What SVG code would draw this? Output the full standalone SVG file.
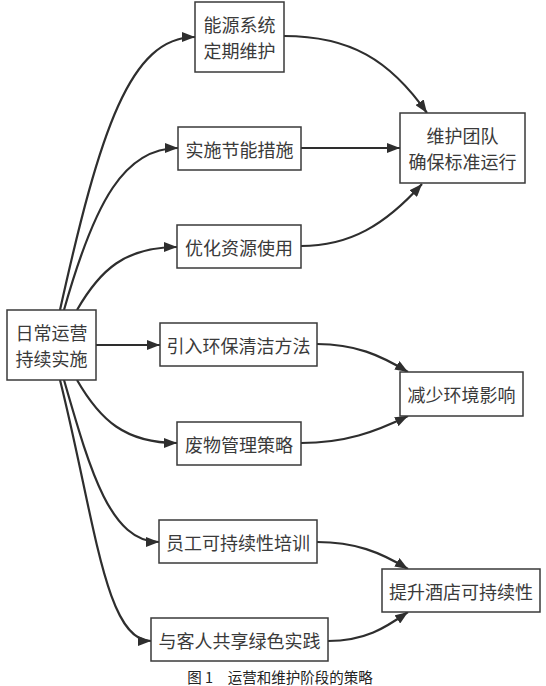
<svg xmlns="http://www.w3.org/2000/svg" width="546" height="686" viewBox="0 0 546 686">
<style>
.box{fill:#fff;stroke:#3a3a3a;stroke-width:1.5}
.lbl{font-family:"Noto Sans CJK SC","Noto Sans",sans-serif;font-size:18px;fill:#3a3a3a;text-anchor:middle;dominant-baseline:central}
.edge{fill:none;stroke:#2e2e2e;stroke-width:2.2}
.cap{font-family:"Noto Sans CJK SC","Noto Sans",sans-serif;font-size:14.5px;fill:#222;text-anchor:middle;dominant-baseline:central}
</style>
<defs>
<marker id="arr" viewBox="0 0 13 10" refX="13" refY="5" markerWidth="13" markerHeight="10" markerUnits="userSpaceOnUse" orient="auto">
<path d="M0,0 L13,5 L0,10 z" fill="#2e2e2e"/>
</marker>
</defs>
<rect width="546" height="686" fill="#fff"/>
<g id="connectors">
<path class="edge" marker-end="url(#arr)" d="M60,310 C100,130 130,37 195,37"/>
<path class="edge" marker-end="url(#arr)" d="M64,310 C95,200 125,148 178,148"/>
<path class="edge" marker-end="url(#arr)" d="M77,310 C100,270 125,247 177,247"/>
<path class="edge" marker-end="url(#arr)" d="M96,345 L160,345"/>
<path class="edge" marker-end="url(#arr)" d="M77,380 C100,420 125,443 177,443"/>
<path class="edge" marker-end="url(#arr)" d="M64,380 C90,470 110,542 159,542"/>
<path class="edge" marker-end="url(#arr)" d="M60,380 C95,520 105,641 151,641"/>
<path class="edge" marker-end="url(#arr)" d="M284,36 C350,36 390,60 427,113"/>
<path class="edge" marker-end="url(#arr)" d="M301,148 L400,148"/>
<path class="edge" marker-end="url(#arr)" d="M301,246 C350,246 385,225 422,184"/>
<path class="edge" marker-end="url(#arr)" d="M317,344 C355,344 380,355 408,372"/>
<path class="edge" marker-end="url(#arr)" d="M301,443 C345,443 375,432 408,416"/>
<path class="edge" marker-end="url(#arr)" d="M317,542 C355,542 380,552 408,569"/>
<path class="edge" marker-end="url(#arr)" d="M328,641 C365,641 385,628 408,612"/>
</g>
<g id="n-energy"><rect class="box" x="195" y="2" width="89" height="70"/><text class="lbl" x="239.5" y="24">能源系统</text><text class="lbl" x="239.5" y="50">定期维护</text></g>
<g id="n-saving"><rect class="box" x="178" y="127" width="123" height="43"/><text class="lbl" x="239.5" y="148.5">实施节能措施</text></g>
<g id="n-team"><rect class="box" x="400" y="113" width="125" height="70"/><text class="lbl" x="462.5" y="135">维护团队</text><text class="lbl" x="462.5" y="161">确保标准运行</text></g>
<g id="n-optimize"><rect class="box" x="177" y="225" width="124" height="43"/><text class="lbl" x="239" y="246.5">优化资源使用</text></g>
<g id="n-daily"><rect class="box" x="7" y="310" width="89" height="70"/><text class="lbl" x="51.5" y="332">日常运营</text><text class="lbl" x="51.5" y="358">持续实施</text></g>
<g id="n-clean"><rect class="box" x="160" y="323" width="157" height="43"/><text class="lbl" x="238.5" y="344.5">引入环保清洁方法</text></g>
<g id="n-reduce"><rect class="box" x="400" y="372" width="123" height="44"/><text class="lbl" x="461.5" y="394">减少环境影响</text></g>
<g id="n-waste"><rect class="box" x="177" y="422" width="124" height="43"/><text class="lbl" x="239" y="443.5">废物管理策略</text></g>
<g id="n-staff"><rect class="box" x="159" y="520" width="158" height="43"/><text class="lbl" x="238" y="541.5">员工可持续性培训</text></g>
<g id="n-hotel"><rect class="box" x="382" y="569" width="158" height="43"/><text class="lbl" x="461" y="590.5">提升酒店可持续性</text></g>
<g id="n-guest"><rect class="box" x="151" y="618" width="177" height="43"/><text class="lbl" x="239.5" y="639.5">与客人共享绿色实践</text></g>
<text class="cap" x="280" y="676">图 1　运营和维护阶段的策略</text>
</svg>
